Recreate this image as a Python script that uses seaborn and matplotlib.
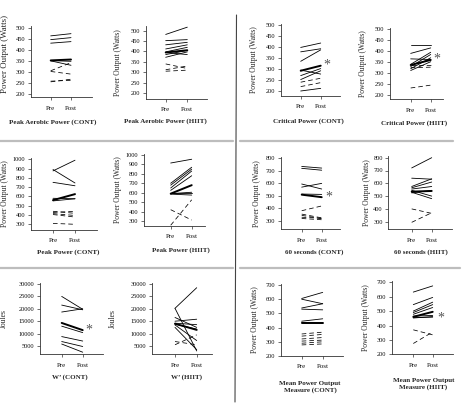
import numpy as np
import pandas as pd
import matplotlib
matplotlib.use("Agg")
import matplotlib.pyplot as plt
import seaborn as sns
from matplotlib.lines import Line2D

# ---------------- data ----------------
PA_CONT_PRE = [463, 446, 430, 350, 351, 305, 302, 258, 255]
PA_CONT_POST = [473, 455, 437, 330, 348, 342, 290, 262, 267]
PA_CONT_DASH = [0, 0, 0, 0, 0, 1, 1, 1, 1]
PA_CONT_MEAN = [352, 356]

PA_HIIT_PRE = [482, 452, 432, 412, 398, 395, 385, 372, 340, 312, 305]
PA_HIIT_POST = [517, 457, 444, 432, 420, 385, 405, 398, 318, 330, 310]
PA_HIIT_DASH = [0, 0, 0, 0, 0, 0, 0, 0, 1, 1, 1]
PA_HIIT_MEAN = [395, 406]

CP_CONT_PRE = [398, 378, 335, 295, 270, 252, 240, 220, 200]
CP_CONT_POST = [418, 392, 387, 277, 302, 292, 258, 238, 212]
CP_CONT_DASH = [0, 0, 0, 0, 0, 0, 1, 1, 0]
CP_CONT_MEAN = [292, 315]

CP_HIIT_PRE = [430, 390, 365, 340, 330, 320, 312, 335, 325, 232]
CP_HIIT_POST = [430, 415, 362, 395, 385, 370, 352, 335, 327, 245]
CP_HIIT_DASH = [0, 0, 0, 0, 0, 0, 0, 1, 1, 1]
CP_HIIT_MEAN = [337, 360]

PP_CONT_PRE = [875, 890, 752, 580, 552, 440, 428, 415, 405, 310]
PP_CONT_POST = [990, 745, 715, 575, 575, 418, 440, 395, 378, 300]
PP_CONT_DASH = [0, 0, 0, 0, 0, 1, 1, 1, 1, 1]
PP_CONT_MEAN = [560, 625]

PP_HIIT_PRE = [915, 700, 680, 650, 625, 600, 590, 585, 420, 255]
PP_HIIT_POST = [955, 870, 850, 830, 780, 600, 605, 575, 310, 525]
PP_HIIT_DASH = [0, 0, 0, 0, 0, 0, 0, 0, 1, 1]
PP_HIIT_MEAN = [590, 680]

S60_CONT_PRE = [735, 720, 595, 570, 515, 382, 355, 345, 330, 320]
S60_CONT_POST = [722, 705, 555, 600, 512, 420, 325, 318, 322, 310]
S60_CONT_DASH = [0, 0, 0, 0, 0, 1, 1, 1, 1, 1]
S60_CONT_MEAN = [510, 490]

S60_HIIT_PRE = [720, 640, 575, 565, 555, 545, 530, 525, 400, 295]
S60_HIIT_POST = [800, 632, 635, 610, 575, 500, 480, 545, 365, 370]
S60_HIIT_DASH = [0, 0, 0, 0, 0, 0, 0, 0, 1, 1]
S60_HIIT_MEAN = [535, 540]

W_CONT_PRE = [25000, 21500, 18700, 13000, 8800, 6800, 5800]
W_CONT_POST = [19800, 19600, 20000, 10400, 7000, 4800, 2500]
W_CONT_DASH = [0, 0, 0, 0, 0, 0, 0]
W_CONT_MEAN = [14300, 11400]

W_HIIT_PRE = [20200, 20200, 16500, 15000, 14200, 13800, 13500, 12500, 6800, 5500]
W_HIIT_POST = [28500, 3000, 12500, 15800, 13600, 11800, 7200, 3500, 5500, 9500]
W_HIIT_DASH = [0, 0, 0, 0, 0, 0, 0, 0, 1, 1]
W_HIIT_MEAN = [14000, 11500]

MP_CONT_PRE = [605, 600, 538, 530, 445, 435, 355, 340, 320, 305, 290, 278]
MP_CONT_POST = [648, 568, 568, 525, 462, 432, 368, 352, 330, 312, 300, 285]
MP_CONT_DASH = [0, 0, 0, 0, 0, 0, 1, 1, 1, 1, 1, 1]
MP_CONT_MEAN = [430, 430]

MP_HIIT_PRE = [632, 545, 500, 490, 478, 465, 455, 452, 370, 275]
MP_HIIT_POST = [675, 595, 562, 545, 525, 470, 458, 462, 335, 355]
MP_HIIT_DASH = [0, 0, 0, 0, 0, 0, 0, 0, 1, 1]
MP_HIIT_MEAN = [460, 495]

TIME_LABELS = ["Pre", "Post"]
TITLES = ["Peak Aerobic Power (CONT)", "Peak Aerobic Power (HIIT)",
          "Critical Power (CONT)", "Critical Power (HIIT)",
          "Peak Power (CONT)", "Peak Power (HIIT)",
          "60 seconds (CONT)", "60 seconds (HIIT)",
          "W\u2019 (CONT)", "W\u2019 (HIIT)",
          "Mean Power Output\nMeasure (CONT)", "Mean Power Output\nMeasure (HIIT)"]
YLABELS = ["Power Output (Watts)"] * 8 + ["Joules"] * 2 + ["Power Output (Watts)"] * 2
YTICKS = [list(range(200, 501, 50))] * 4 + [list(range(300, 1001, 100))] * 2 + \
         [list(range(300, 801, 100))] * 2 + [list(range(5000, 30001, 5000))] * 2 + \
         [list(range(200, 701, 100))] * 2
STARS = {2: (1.3, 318), 3: (1.3, 364), 6: (1.38, 494), 8: (1.27, 11400), 11: (1.43, 454)}

DATA = [
    (PA_CONT_PRE, PA_CONT_POST, PA_CONT_DASH, PA_CONT_MEAN),
    (PA_HIIT_PRE, PA_HIIT_POST, PA_HIIT_DASH, PA_HIIT_MEAN),
    (CP_CONT_PRE, CP_CONT_POST, CP_CONT_DASH, CP_CONT_MEAN),
    (CP_HIIT_PRE, CP_HIIT_POST, CP_HIIT_DASH, CP_HIIT_MEAN),
    (PP_CONT_PRE, PP_CONT_POST, PP_CONT_DASH, PP_CONT_MEAN),
    (PP_HIIT_PRE, PP_HIIT_POST, PP_HIIT_DASH, PP_HIIT_MEAN),
    (S60_CONT_PRE, S60_CONT_POST, S60_CONT_DASH, S60_CONT_MEAN),
    (S60_HIIT_PRE, S60_HIIT_POST, S60_HIIT_DASH, S60_HIIT_MEAN),
    (W_CONT_PRE, W_CONT_POST, W_CONT_DASH, W_CONT_MEAN),
    (W_HIIT_PRE, W_HIIT_POST, W_HIIT_DASH, W_HIIT_MEAN),
    (MP_CONT_PRE, MP_CONT_POST, MP_CONT_DASH, MP_CONT_MEAN),
    (MP_HIIT_PRE, MP_HIIT_POST, MP_HIIT_DASH, MP_HIIT_MEAN),
]

# ---------------- layout (pixels) ----------------
# left, pre_x, post_x, right, top, bottom, (low tick value, px), (high tick value, px)
LAYOUT = [
    (30.7, 50.7, 71.0, 91.7, 26, 97.3, (200, 94.0), (500, 27.7)),
    (145.7, 165.7, 187.3, 206.7, 26, 98.7, (200, 93.0), (500, 30.7)),
    (280.7, 300.7, 320.7, 340.0, 24, 96.0, (200, 91.0), (500, 25.0)),
    (390.0, 410.7, 430.7, 443.0, 28, 99.3, (200, 95.0), (500, 29.3)),
    (31.0, 53.0, 75.0, 96.7, 158, 230.0, (300, 224.3), (1000, 159.3)),
    (144.0, 170.7, 191.7, 205.0, 154, 225.7, (300, 221.0), (1000, 155.0)),
    (280.7, 301.7, 321.7, 340.0, 157, 229.3, (300, 221.0), (800, 158.3)),
    (388.3, 411.7, 431.7, 451.7, 156, 229.3, (300, 221.7), (800, 157.7)),
    (40.0, 61.7, 82.7, 103.3, 283, 354.3, (5000, 346.0), (30000, 284.0)),
    (151.7, 175.0, 196.7, 211.7, 283, 354.3, (5000, 346.0), (30000, 284.0)),
    (280.7, 301.7, 322.7, 343.0, 284, 356.0, (200, 356.0), (700, 285.0)),
    (391.7, 413.3, 432.7, 453.3, 281, 354.3, (200, 354.3), (700, 282.3)),
]
TITLE_POS = [(52.5, 122), (165.7, 120.7), (308.7, 121), (414, 122.7),
             (68.3, 252.3), (181, 250), (314, 251.7), (420.5, 251.7),
             (70.3, 377.3), (187, 377.3), (310, 387), (423.5, 383.8)]
YLABEL_X = [5, 118, 254, 362.7, 5, 118, 257, 366.7, 4, 113.3, 255, 366]

W, H = 477, 404
sns.set_theme(style="ticks")
plt.rcParams["font.family"] = ["Liberation Serif", "DejaVu Serif"]

fig = plt.figure(figsize=(W / 100, H / 100), dpi=100)
fig.patch.set_facecolor("white")

for i, ((pre, post, dash, mean), lay) in enumerate(zip(DATA, LAYOUT)):
    l, p0, p1, r, top, bot, (vlo, pxlo), (vhi, pxhi) = lay
    ax = fig.add_axes([l / W, 1 - bot / H, (r - l) / W, (bot - top) / H])
    ax.set_facecolor("white")
    rows = []
    for s, (a, b, d) in enumerate(zip(pre, post, dash)):
        kind = "dashed" if d else "solid"
        rows.append((s, 0, a, kind))
        rows.append((s, 1, b, kind))
    rows.append((-1, 0, mean[0], "mean"))
    rows.append((-1, 1, mean[1], "mean"))
    df = pd.DataFrame(rows, columns=["subject", "time", "value", "kind"])
    kinds = [k for k in ["solid", "dashed", "mean"] if k in set(df["kind"])]
    sizes = {"solid": 0.6, "dashed": 0.55, "mean": 1.4}
    dashes = {"solid": "", "dashed": (6, 4), "mean": ""}
    sns.lineplot(data=df, x="time", y="value", units="subject", estimator=None,
                 style="kind", style_order=kinds, size="kind", size_order=kinds,
                 sizes={k: sizes[k] for k in kinds}, dashes={k: dashes[k] for k in kinds},
                 color="black", legend=False, ax=ax)
    unit = p1 - p0
    ax.set_xlim((l - p0) / unit, (r - p0) / unit)
    vpp = (vhi - vlo) / (pxlo - pxhi)
    ax.set_ylim(vlo - (bot - pxlo) * vpp, vhi + (pxhi - top) * vpp)
    ax.set_xticks([0, 1])
    ax.set_xticklabels(TIME_LABELS, fontsize=5)
    ax.set_yticks(YTICKS[i])
    ax.set_yticklabels([str(v) for v in YTICKS[i]], fontsize=4.6)
    ax.set_xlabel("")
    ax.set_ylabel("")
    for side in ["top", "right"]:
        ax.spines[side].set_visible(False)
    for side in ["left", "bottom"]:
        ax.spines[side].set_linewidth(0.6)
        ax.spines[side].set_color("#333333")
    ax.tick_params(axis="both", direction="out", length=2, width=0.5, color="#333333",
                   labelcolor="#111111")
    ax.tick_params(axis="x", pad=4)
    ax.tick_params(axis="y", pad=2)
    if i in STARS:
        sx, sy = STARS[i]
        ax.text(sx, sy, "*", fontsize=10, ha="center", va="center", color="#555555")
    tx, ty = TITLE_POS[i]
    fig.text(tx / W, 1 - ty / H, TITLES[i], ha="center", va="center", fontsize=5,
             fontweight="bold", linespacing=1.35)
    ysz = 6.4 if i == 0 else 5.5
    ycen = 54 if i == 0 else (top + bot) / 2
    fig.text(YLABEL_X[i] / W, 1 - ycen / H, YLABELS[i], rotation=90, ha="center",
             va="center", fontsize=ysz)

# separators
sep = "#bdbdbd"
for y in (141, 268):
    fig.add_artist(Line2D([0, 233 / W], [1 - y / H] * 2, color=sep, lw=1.6))
fig.add_artist(Line2D([240 / W, 453 / W], [1 - 141 / H] * 2, color=sep, lw=1.6))
fig.add_artist(Line2D([240 / W, 460 / W], [1 - 268 / H] * 2, color=sep, lw=1.6))
fig.add_artist(Line2D([236.5 / W, 235 / W], [1 - 15 / H, 1 - 402 / H], color="#444444", lw=0.8))

fig.savefig("out.png", dpi=100, facecolor="white")
